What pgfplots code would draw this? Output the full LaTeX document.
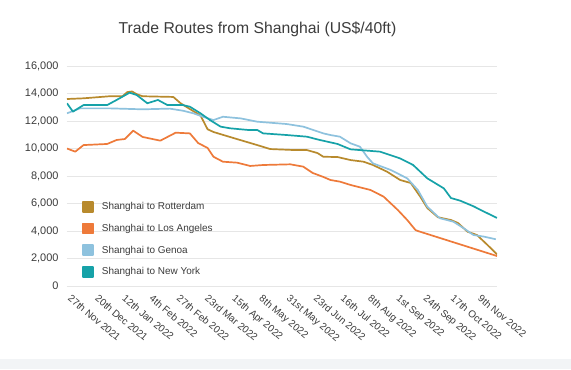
\documentclass[border=0pt]{standalone}
\usepackage{fontspec}
\setmainfont{Liberation Sans}
\usepackage{pgfplots}
\pgfplotsset{compat=1.18}
\definecolor{rot}{RGB}{184,138,45}
\definecolor{la}{RGB}{238,122,58}
\definecolor{gen}{RGB}{142,194,222}
\definecolor{ny}{RGB}{22,162,168}
\definecolor{gridc}{RGB}{230,230,230}
\definecolor{txt}{RGB}{60,60,60}
\definecolor{bgstrip}{RGB}{242,244,246}
\begin{document}
\begin{tikzpicture}[x=1bp,y=1bp]
\fill[white] (-67,-83) rectangle (504,286);
\fill[bgstrip] (-67,-83) rectangle (504,-73);
\node[text=txt, font=\fontsize{15.8}{18}\selectfont, anchor=base] at (190.5,253) {Trade Routes from Shanghai (US\$/40ft)};
\begin{axis}[
  width=430bp, height=220bp, scale only axis,
  xmin=0, xmax=364, ymin=0, ymax=16000,
  axis line style={draw=none},
  ymajorgrids, grid style={gridc, line width=0.8bp},
  major tick length=0pt,
  ytick={0,2000,...,16000},
  scaled y ticks=false,
  /pgf/number format/1000 sep={,},
  /pgf/number format/assume math mode=true,
  yticklabel style={font=\fontsize{11}{13}\selectfont, text=txt, xshift=-5bp},
  xtick={0,23,46,69,92,116,139,162,185,208,231,254,278,301,324,347},
  xticklabels={27th Nov 2021,20th Dec 2021,12th Jan 2022,4th Feb 2022,27th Feb 2022,23rd Mar 2022,15th Apr 2022,8th May 2022,31st May 2022,23rd Jun 2022,16th Jul 2022,8th Aug 2022,1st Sep 2022,24th Sep 2022,17th Oct 2022,9th Nov 2022},
  xticklabel style={font=\fontsize{10}{12}\selectfont, text=txt, rotate=-40, anchor=north west, inner sep=1bp, xshift=8bp, yshift=-2bp},
  legend style={at={(0.035,0.39)}, anchor=north west, draw=none, fill=none, font=\fontsize{10}{12}\selectfont, text=txt, row sep=9bp, inner sep=0pt},
  legend cell align=left,
  legend image code/.code={\fill[#1] (0bp,-5bp) rectangle (10bp,5bp); \path (16bp,0bp);},
  every axis plot/.append style={line width=1.7bp, line join=round},
]
\addplot[rot] coordinates {(0,13600)(14,13650)(36,13800)(47,13800)(51,14100)(55,14150)(59,13950)(64,13800)(90,13750)(96,13300)(104,12870)(113,12400)(119,11400)(124,11200)(141,10760)(161,10250)(172,9960)(192,9890)(203,9890)(212,9670)(217,9400)(229,9380)(240,9160)(251,9040)(259,8800)(271,8310)(282,7710)(291,7490)(299,6500)(305,5670)(314,5000)(325,4800)(331,4580)(339,3950)(347,3710)(356,2980)(364,2300)};
\addlegendentry{Shanghai to Rotterdam}
\addplot[la] coordinates {(0,10000)(7,9770)(14,10250)(34,10330)(42,10620)(49,10690)(56,11300)(64,10840)(79,10570)(92,11150)(104,11100)(111,10400)(119,10040)(124,9400)(132,9040)(144,8970)(155,8730)(166,8800)(189,8850)(200,8680)(208,8220)(217,7930)(223,7710)(231,7590)(240,7350)(257,6980)(268,6500)(280,5530)(288,4800)(295,4070)(297,4000)(364,2180)};
\addlegendentry{Shanghai to Los Angeles}
\addplot[gen] coordinates {(0,12560)(11,12920)(36,12920)(64,12850)(87,12900)(98,12750)(107,12560)(115,12310)(124,12070)(132,12310)(147,12190)(161,11950)(186,11780)(200,11590)(217,11100)(223,10980)(231,10860)(240,10380)(248,10130)(254,9400)(259,8920)(274,8440)(288,7830)(297,6980)(305,5770)(314,5040)(316,4920)(327,4680)(336,4190)(344,3710)(353,3590)(363,3400)};
\addlegendentry{Shanghai to Genoa}
\addplot[ny] coordinates {(0,13290)(5,12680)(14,13160)(34,13160)(42,13530)(53,14060)(59,13890)(68,13290)(77,13530)(85,13160)(98,13160)(104,13040)(113,12560)(121,12070)(130,11590)(138,11470)(153,11350)(161,11350)(166,11100)(186,10980)(203,10860)(214,10620)(229,10330)(240,9940)(265,9770)(282,9280)(293,8800)(305,7830)(319,7100)(325,6400)(333,6200)(344,5800)(353,5410)(364,4950)};
\addlegendentry{Shanghai to New York}
\end{axis}
\pgfresetboundingbox
\useasboundingbox (-67,-83) rectangle (504,286);
\end{tikzpicture}
\end{document}
